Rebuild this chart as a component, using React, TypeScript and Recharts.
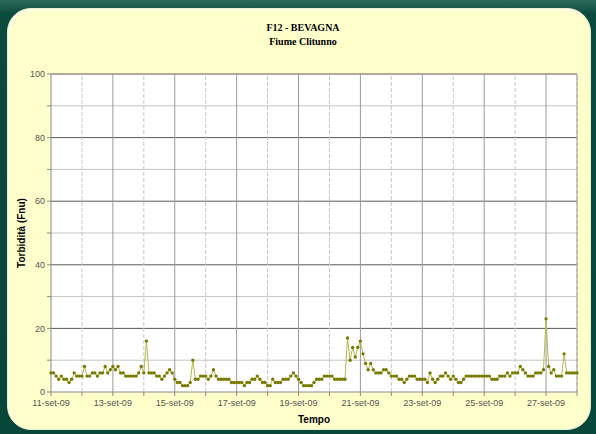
import { LineChart, Line, XAxis, YAxis, CartesianGrid, ReferenceLine, Label } from 'recharts';

// one reading every 2 hours, starting 11-set-09 00:00
const HOURS_STEP = 2;

const dayLabels = [
  '11-set-09', '12-set-09', '13-set-09', '14-set-09', '15-set-09', '16-set-09',
  '17-set-09', '18-set-09', '19-set-09', '20-set-09', '21-set-09', '22-set-09',
  '23-set-09', '24-set-09', '25-set-09', '26-set-09', '27-set-09', '28-set-09',
];

const turbidity = [
  6, 6, 5, 4, 5, 4, 4, 3, 4, 6, 5, 5, // 11-set
  5, 8, 5, 5, 6, 6, 5, 6, 6, 8, 6, 7, // 12-set
  8, 7, 8, 6, 6, 5, 5, 5, 5, 5, 6, 8, // 13-set
  6, 16, 6, 6, 6, 5, 5, 4, 5, 6, 7, 6, // 14-set
  4, 3, 3, 2, 2, 2, 3, 10, 4, 4, 5, 5, // 15-set
  5, 4, 5, 7, 5, 4, 4, 4, 4, 4, 3, 3, // 16-set
  3, 3, 3, 2, 3, 3, 4, 4, 5, 4, 3, 3, // 17-set
  2, 2, 4, 3, 3, 3, 4, 4, 4, 5, 6, 5, // 18-set
  4, 3, 2, 2, 2, 2, 3, 4, 4, 4, 5, 5, // 19-set
  5, 5, 4, 4, 4, 4, 4, 17, 10, 14, 11, 14, // 20-set
  16, 12, 9, 7, 9, 7, 6, 6, 6, 7, 7, 6, // 21-set
  5, 5, 5, 4, 4, 3, 4, 5, 5, 5, 4, 4, // 22-set
  4, 4, 3, 6, 4, 3, 4, 5, 5, 6, 5, 4, // 23-set
  5, 4, 3, 3, 4, 5, 5, 5, 5, 5, 5, 5, // 24-set
  5, 5, 5, 4, 4, 4, 5, 5, 5, 6, 5, 6, // 25-set
  6, 6, 8, 7, 6, 5, 5, 5, 6, 6, 6, 7, // 26-set
  23, 8, 6, 7, 5, 5, 5, 12, 6, 6, 6, 6, // 27-set
  6,
];

const yTicks = [0, 10, 20, 30, 40, 50, 60, 70, 80, 90, 100];

const data = turbidity.map((v, i) => ({ t: i * HOURS_STEP, v }));
const dayTicks = dayLabels.map((_, i) => i * 24);

const App = () => {
  return (
    <div
      style={{
        position: 'fixed',
        left: 0,
        top: 0,
        width: 596,
        height: 434,
        background: 'linear-gradient(180deg, #2c6a5c 0px, #0b4b3d 14px, #06473a 100%)',
        overflow: 'hidden',
      }}
    >
      <div
        style={{
          position: 'absolute',
          left: 7,
          top: 8,
          width: 582,
          height: 420,
          background: '#ffffcc',
          borderRadius: 24,
          border: '1px solid #eaeed0',
          boxShadow: 'inset 2px 2px 0 #ffffe8',
        }}
      />
      <div
        style={{
          position: 'absolute',
          left: 0,
          width: 606,
          top: 21,
          textAlign: 'center',
          fontFamily: '"Liberation Serif", "Times New Roman", serif',
          fontWeight: 'bold',
          fontSize: 10,
          lineHeight: '14px',
          color: '#000',
        }}
      >
        <div>F12 - BEVAGNA</div>
        <div>Fiume Clitunno</div>
      </div>
      <div style={{ position: 'absolute', left: 0, top: 0 }}>
        <LineChart
          width={596}
          height={434}
          data={data}
          margin={{ top: 74, right: 19, bottom: 0, left: 0 }}
        >
          <CartesianGrid fill="#ffffff" horizontal={false} vertical={false} />
          {yTicks.slice(1).map((y) => (
            <ReferenceLine
              key={'h' + y}
              y={y}
              stroke={y % 20 === 0 ? '#5a5a5a' : '#c4c4c4'}
              strokeWidth={1}
            />
          ))}
          {dayTicks.slice(1).map((x, i) => (
            <ReferenceLine
              key={'v' + x}
              x={x}
              stroke={i % 2 === 0 ? '#c8c8c8' : '#9a9a9a'}
              strokeDasharray={i % 2 === 0 ? '4 2' : undefined}
              strokeWidth={1}
            />
          ))}
          <XAxis
            dataKey="t"
            type="number"
            domain={[0, 408]}
            ticks={dayTicks}
            interval={0}
            height={42}
            tickSize={4}
            tickMargin={4}
            stroke="#8a8a8a"
            tick={{ fill: '#555', fontSize: 9, fontFamily: '"Liberation Sans", Arial, sans-serif' }}
            tickFormatter={(v: number) => {
              const d = Math.round(v / 24);
              return d % 2 === 0 ? dayLabels[d] : '';
            }}
          >
            <Label
              value="Tempo"
              position="insideBottom"
              offset={11}
              style={{ fontWeight: 'bold', fontSize: 10, fill: '#000', fontFamily: '"Liberation Sans", Arial, sans-serif' }}
            />
          </XAxis>
          <YAxis
            type="number"
            domain={[0, 100]}
            ticks={yTicks}
            interval={0}
            width={51}
            tickSize={4}
            tickMargin={2}
            stroke="#8a8a8a"
            tick={{ fill: '#555', fontSize: 9, fontFamily: '"Liberation Sans", Arial, sans-serif' }}
            tickFormatter={(v: number) => (v % 20 === 0 ? String(v) : '')}
          >
            <Label
              value="Torbidità (Fnu)"
              angle={-90}
              position="insideLeft"
              offset={21}
              style={{ textAnchor: 'middle', fontWeight: 'bold', fontSize: 10, fill: '#000', fontFamily: '"Liberation Sans", Arial, sans-serif' }}
            />
          </YAxis>
          <ReferenceLine x={408} stroke="#9a9a9a" />
          <Line
            dataKey="v"
            type="linear"
            stroke="#b8b850"
            strokeWidth={1}
            dot={{ r: 1.7, fill: '#7a7a00', stroke: 'none' }}
            activeDot={false}
            isAnimationActive={false}
          />
        </LineChart>
      </div>
    </div>
  );
};

export default App;
